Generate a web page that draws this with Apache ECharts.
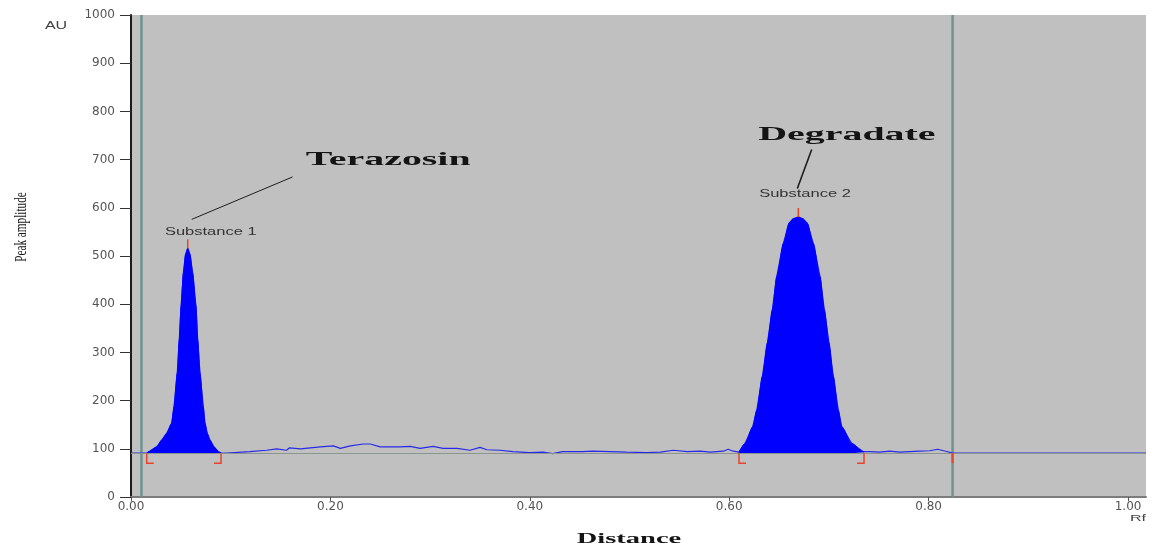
<!DOCTYPE html>
<html>
<head>
<meta charset="utf-8">
<title>Densitogram</title>
<script src="https://cdn.jsdelivr.net/npm/echarts@6/dist/echarts.min.js"></script>
<style>
  html, body { margin: 0; padding: 0; background: #ffffff; }
  #chart { width: 1150px; height: 543px; }
</style>
</head>
<body>
<div id="chart"></div>
<script>
// Densitometric scan of the plate track: Rf position vs detector response (AU)
const rf = [
  0, 0.0158, 0.0174, 0.0258, 0.0308, 0.0358, 0.0408, 0.0431, 0.0464, 0.0484,
  0.0502, 0.0525, 0.0547, 0.0569, 0.0592, 0.0619, 0.0652, 0.0669, 0.0692, 0.0725,
  0.0742, 0.0765, 0.0792, 0.0832, 0.0876, 0.0903, 0.096, 0.119, 0.136, 0.146,
  0.156, 0.159, 0.170, 0.190, 0.203, 0.210, 0.220, 0.233, 0.240, 0.250,
  0.270, 0.280, 0.290, 0.303, 0.313, 0.327, 0.340, 0.350, 0.357, 0.370,
  0.383, 0.400, 0.413, 0.423, 0.433, 0.453, 0.463, 0.480, 0.497, 0.517,
  0.531, 0.544, 0.558, 0.571, 0.581, 0.594, 0.599, 0.604, 0.6098, 0.6158,
  0.6236, 0.6276, 0.6332, 0.6382, 0.6432, 0.6476, 0.6543, 0.6600, 0.6640, 0.6693,
  0.6740, 0.6783, 0.6843, 0.6911, 0.6954, 0.7001, 0.7044, 0.7094, 0.7128, 0.7229,
  0.7345, 0.7352, 0.741, 0.751, 0.761, 0.771, 0.781, 0.791, 0.801, 0.809,
  0.817, 0.824, 1.018
];
const au = [
  91, 91, 94, 104, 118, 132, 153, 187, 257, 326,
  395, 464, 503, 516, 503, 464, 395, 326, 257, 187,
  153, 132, 118, 104, 94, 91, 91, 94, 97, 100,
  97, 102, 100, 104, 106, 101, 106, 110, 110, 104,
  104, 105, 101, 105, 101, 101, 97, 103, 98, 97,
  94, 92, 93, 90, 94, 94, 95, 94, 93, 92,
  93, 97, 94, 95, 93, 95, 99, 95, 93, 111,
  146, 180, 250, 319, 388, 457, 526, 568, 577, 581,
  577, 568, 526, 457, 388, 319, 250, 180, 146, 111,
  94, 93, 94, 93, 95, 93, 94, 95, 96, 99,
  95, 91, 91
];
const baselineAU = 91;
// integration windows (start Rf, end Rf) of the two detected peaks
const peakStart = [0.0158, 0.6098];
const peakEnd = [0.0903, 0.7352];
const peakNames = ['Substance 1', 'Substance 2'];
const compoundNames = ['Terazosin', 'Degradate'];
// scan start / end positions
const scanLimits = [0.0105, 0.824];
const xTicks = [0, 0.2, 0.4, 0.6, 0.8, 1.0];

const trace = rf.map((x, i) => [x, au[i]]);
const peakFills = peakStart.map((s, k) => trace.filter(p => p[0] >= s && p[0] <= peakEnd[k]));
const apexes = peakFills.map(pts => pts.reduce((m, p) => (p[1] > m[1] ? p : m)));

const RED = '#e8442c';

const chart = echarts.init(document.getElementById('chart'), null, { renderer: 'canvas' });

const fillSeries = peakFills.map((pts, k) => ({
  name: peakNames[k],
  type: 'line',
  data: pts,
  symbol: 'none',
  smooth: 0.25,
  smoothMonotone: 'x',
  z: 3,
  lineStyle: { color: '#0000ff', width: 1 },
  areaStyle: { color: '#0000ff', opacity: 1, origin: baselineAU },
  silent: true
}));

chart.setOption({
  animation: false,
  backgroundColor: '#ffffff',
  grid: {
    left: 131, right: 4, top: 15, bottom: 46,
    show: true, backgroundColor: '#c0c0c0', borderWidth: 0
  },
  xAxis: {
    type: 'value',
    min: 0, max: 1.018, interval: 0.2,
    axisLine: { show: true, lineStyle: { color: '#7c7c7c', width: 2 } },
    axisTick: { show: true, length: 4, customValues: xTicks, lineStyle: { color: '#555' } },
    axisLabel: {
      customValues: xTicks,
      margin: 4,
      color: '#555',
      fontFamily: 'DejaVu Sans',
      fontSize: 12,
      formatter: v => v.toFixed(2)
    },
    splitLine: { show: false }
  },
  yAxis: {
    type: 'value',
    min: 0, max: 1000, interval: 100,
    axisLine: { show: true, lineStyle: { color: '#1a1a1a', width: 2 } },
    axisTick: { show: true, length: 11, lineStyle: { color: '#333', width: 1 } },
    axisLabel: {
      margin: 16,
      color: '#555',
      fontFamily: 'DejaVu Sans',
      fontSize: 12,
      formatter: v => String(v)
    },
    splitLine: { show: false }
  },
  series: [
    {
      // baseline reference
      type: 'line',
      data: [],
      z: 1,
      silent: true,
      markLine: {
        symbol: 'none',
        silent: true,
        label: { show: false },
        data: [
          { yAxis: baselineAU, lineStyle: { color: '#8a968e', width: 1, type: 'solid' } }
        ]
      }
    },
    {
      // scan start / end limit lines
      type: 'custom',
      z: 1,
      silent: true,
      data: scanLimits.map(v => [v]),
      encode: { x: 0 },
      renderItem(params, api) {
        const top = api.coord([api.value(0), 1000]);
        const bot = api.coord([api.value(0), 0]);
        return { type: 'line', shape: { x1: top[0], y1: top[1], x2: bot[0], y2: bot[1] }, style: { stroke: '#6e9393', lineWidth: 2.5 } };
      }
    },
    {
      name: 'Scan',
      type: 'line',
      data: trace,
      symbol: 'none',
      z: 2,
      lineStyle: { color: '#2a2ae6', width: 1.2 },
      silent: true
    },
    ...fillSeries,
    {
      // integration brackets under each peak
      type: 'custom',
      z: 5,
      silent: true,
      data: peakStart.map((s, k) => [s, peakEnd[k], baselineAU]),
      encode: { x: [0, 1], y: 2 },
      renderItem(params, api) {
        const a = api.coord([api.value(0), api.value(2)]);
        const b = api.coord([api.value(1), api.value(2)]);
        const d = 10, f = 7;
        const st = { stroke: RED, lineWidth: 1.5, fill: null };
        return {
          type: 'group',
          children: [
            { type: 'polyline', shape: { points: [[a[0] + f, a[1] + d], [a[0], a[1] + d], [a[0], a[1]]] }, style: st },
            { type: 'polyline', shape: { points: [[b[0] - f, b[1] + d], [b[0], b[1] + d], [b[0], b[1]]] }, style: st }
          ]
        };
      }
    },
    {
      // apex markers
      type: 'custom',
      z: 5,
      silent: true,
      data: apexes,
      encode: { x: 0, y: 1 },
      renderItem(params, api) {
        const p = api.coord([api.value(0), api.value(1)]);
        return { type: 'line', shape: { x1: p[0], y1: p[1] - 9, x2: p[0], y2: p[1] }, style: { stroke: RED, lineWidth: 1.5 } };
      }
    },
    {
      // end-of-scan marker
      type: 'custom',
      z: 5,
      silent: true,
      data: [[scanLimits[1], baselineAU]],
      encode: { x: 0, y: 1 },
      renderItem(params, api) {
        const p = api.coord([api.value(0), api.value(1)]);
        return { type: 'line', shape: { x1: p[0], y1: p[1], x2: p[0], y2: p[1] + 10 }, style: { stroke: RED, lineWidth: 2 } };
      }
    }
  ]
});

// Annotations anchored in data space (Rf, AU)
const toPx = p => chart.convertToPixel({ gridIndex: 0 }, p);
const annot = {
  peakLabel: [[0.080, 550], [0.676, 629]],
  compound: [[0.258, 699], [0.718, 751]],
  leader: [
    [[0.0609, 576], [0.162, 664]],
    [[0.6683, 640], [0.6827, 721]]
  ]
};

function txt(x, y, text, font, fill, scaleX, rotation) {
  return {
    type: 'text', x, y, scaleX: scaleX || 1, rotation: rotation || 0, silent: true, z: 10,
    style: {
      text, x: 0, y: 0, font, fill,
      align: 'center', verticalAlign: 'middle',
      textAlign: 'center', textVerticalAlign: 'middle'
    }
  };
}

const elems = [];
peakNames.forEach((name, k) => {
  const p = toPx(annot.peakLabel[k]);
  elems.push(txt(p[0], p[1], name, '11px "Liberation Sans"', '#333333', 1.5));
});
compoundNames.forEach((name, k) => {
  const p = toPx(annot.compound[k]);
  elems.push(txt(p[0], p[1], name, 'bold 19px "Liberation Serif"', '#141414', 2.1));
});
annot.leader.forEach((seg, k) => {
  const a = toPx(seg[0]), b = toPx(seg[1]);
  elems.push({
    type: 'line', silent: true, z: 10,
    shape: { x1: a[0], y1: a[1], x2: b[0], y2: b[1] },
    style: { stroke: '#1e1e1e', lineWidth: k === 0 ? 1 : 1.6 }
  });
});
// axis titles and units
elems.push(txt(629, 539, 'Distance', 'bold 15px "Liberation Serif"', '#141414', 1.9));
elems.push(txt(22, 227, 'Peak amplitude', '17px "Liberation Serif"', '#141414', 0.66, Math.PI / 2));
elems.push(txt(56, 26, 'AU', '10px "Liberation Sans"', '#444444', 1.6));
elems.push(txt(1138, 519, 'Rf', '9px "Liberation Sans"', '#444444', 1.8));

chart.setOption({ graphic: { elements: elems } });
</script>
</body>
</html>
